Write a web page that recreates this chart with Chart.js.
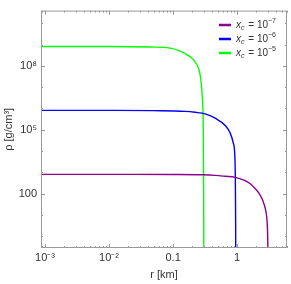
<!DOCTYPE html>
<html>
<head>
<meta charset="utf-8">
<script src="https://cdn.jsdelivr.net/npm/chart.js@4/dist/chart.umd.min.js"></script>
<style>
  html, body { margin: 0; padding: 0; background: #fff; }
  #wrap { width: 291px; height: 284px; }
</style>
</head>
<body>
<div id="wrap"><canvas id="myChart" width="291" height="284"></canvas></div>
<script>
// density profiles (r in km, rho in g/cm^3)
const r7 = [0.0008, 0.01, 0.1, 0.3, 0.453, 0.65, 0.93, 1.33, 1.6, 1.91, 2.29, 2.55, 2.74, 2.88, 2.97, 3.02, 3.04];
const rho7 = [810, 810, 805, 780, 730, 660, 590, 415, 295, 175, 87, 43, 21, 9, 2.5, 0.3, 0.05];

const r6 = [0.0008, 0.01, 0.05, 0.154, 0.221, 0.316, 0.453, 0.65, 0.778, 0.866, 0.914, 0.935, 0.947, 0.95];
const rho6 = [8.1e5, 8.1e5, 7.9e5, 7.3e5, 6.6e5, 5.6e5, 3.5e5, 1.6e5, 7e4, 2.5e4, 8e3, 800, 5, 0.1];

const r5 = [0.0008, 0.01, 0.0437, 0.0897, 0.129, 0.184, 0.221, 0.264, 0.284, 0.296, 0.3, 0.302];
const rho5 = [8.1e8, 8.1e8, 7.6e8, 6.8e8, 4.9e8, 2.7e8, 1.5e8, 3.8e7, 4.3e6, 1e5, 100, 0.1];

const seriesExp = ["-7", "-6", "-5"];
const seriesColors = ["#8b008b", "#0000ff", "#00ff00"];

const xTickValues = [0.001, 0.01, 0.1, 1];
const xTickLabels = ["10⁻³", "10⁻²", "0.1", "1"];
const yTickValues = [100, 1e5, 1e8];
const yTickLabels = ["100", "10⁵", "10⁸"];

const xMin = 8.66e-4, xMax = 6.0;
const yMin = 0.285, yMax = 3.9e10;

const frameColor = "#9a9a9a";
const textColor = "#333";
const fontFamily = "'Liberation Sans', Arial, sans-serif";

function toPoints(xs, ys) {
  return xs.map((x, i) => ({ x: x, y: ys[i] }));
}

const profiles = [toPoints(r7, rho7), toPoints(r6, rho6), toPoints(r5, rho5)];

const data = {
  datasets: profiles.map((pts, i) => ({
    label: "x_c = 10^" + seriesExp[i],
    data: pts,
    borderColor: seriesColors[i],
    backgroundColor: seriesColors[i],
    borderWidth: 1.4,
    pointRadius: 0,
    showLine: true,
    fill: false,
    cubicInterpolationMode: "monotone",
  })),
};

// frame, inner tick marks and the legend with sub/superscripts
const decorations = {
  id: "decorations",
  afterDraw(chart) {
    const ctx = chart.ctx;
    const a = chart.chartArea;
    const xs = chart.scales.x;
    const ys = chart.scales.y;
    ctx.save();
    ctx.strokeStyle = frameColor;
    ctx.lineWidth = 1;
    ctx.strokeRect(a.left + 0.5, a.top + 0.5, a.right - a.left - 1, a.bottom - a.top - 1);

    // x ticks (major + minor), bottom and top
    for (let e = -4; e <= 1; e++) {
      for (let m = 1; m <= 9; m++) {
        const v = m * Math.pow(10, e);
        if (v < xMin || v > xMax) continue;
        const px = Math.round(xs.getPixelForValue(v)) + 0.5;
        const len = m === 1 ? 4 : 2;
        ctx.beginPath();
        ctx.moveTo(px, a.bottom);
        ctx.lineTo(px, a.bottom - len);
        ctx.moveTo(px, a.top);
        ctx.lineTo(px, a.top + len);
        ctx.stroke();
      }
    }
    // y ticks every decade, left and right
    for (let e = 0; e <= 10; e++) {
      const v = Math.pow(10, e);
      const py = Math.round(ys.getPixelForValue(v)) + 0.5;
      const len = yTickValues.includes(v) ? 4 : 2;
      ctx.beginPath();
      ctx.moveTo(a.left, py);
      ctx.lineTo(a.left + len, py);
      ctx.moveTo(a.right, py);
      ctx.lineTo(a.right - len, py);
      ctx.stroke();
    }

    // legend
    const lx = 219, tx = 236;
    ctx.textBaseline = "middle";
    ctx.fillStyle = textColor;
    seriesExp.forEach((ex, i) => {
      const ly = 25 + i * 14;
      ctx.strokeStyle = seriesColors[i];
      ctx.lineWidth = 2.5;
      ctx.beginPath();
      ctx.moveTo(lx, ly);
      ctx.lineTo(lx + 12, ly);
      ctx.stroke();

      let x = tx;
      ctx.font = "italic 10px " + fontFamily;
      ctx.fillText("x", x, ly);
      x += ctx.measureText("x").width;
      ctx.font = "italic 7px " + fontFamily;
      ctx.fillText("c", x, ly + 3);
      x += ctx.measureText("c").width + 1;
      ctx.font = "10px " + fontFamily;
      ctx.fillText(" = 10", x, ly);
      x += ctx.measureText(" = 10").width;
      ctx.font = "7px " + fontFamily;
      ctx.fillText(ex.replace("-", "−"), x, ly - 4);
    });
    ctx.restore();
  },
};

const config = {
  type: "scatter",
  data: data,
  options: {
    responsive: false,
    animation: false,
    layout: { padding: { top: 3, right: 4, left: 0, bottom: 0 } },
    plugins: {
      legend: { display: false },
      tooltip: { enabled: false },
    },
    scales: {
      x: {
        type: "logarithmic",
        min: xMin,
        max: xMax,
        afterBuildTicks: (scale) => {
          scale.ticks = xTickValues.map((v) => ({ value: v }));
        },
        afterFit: (scale) => {
          scale.height = 36;
        },
        grid: { display: false, drawTicks: false },
        border: { display: false },
        ticks: {
          autoSkip: false,
          maxRotation: 0,
          padding: 3,
          color: textColor,
          font: { family: fontFamily, size: 11 },
          callback: (v) => {
            const i = xTickValues.indexOf(v);
            return i >= 0 ? xTickLabels[i] : "";
          },
        },
        title: {
          display: true,
          text: "r [km]",
          color: textColor,
          font: { family: fontFamily, size: 11 },
          padding: { top: 0, bottom: 2 },
        },
      },
      y: {
        type: "logarithmic",
        min: yMin,
        max: yMax,
        afterBuildTicks: (scale) => {
          scale.ticks = yTickValues.map((v) => ({ value: v }));
        },
        afterFit: (scale) => {
          scale.width = 41;
        },
        grid: { display: false, drawTicks: false },
        border: { display: false },
        ticks: {
          autoSkip: false,
          padding: 4,
          color: textColor,
          font: { family: fontFamily, size: 11 },
          callback: (v) => {
            const i = yTickValues.indexOf(v);
            return i >= 0 ? yTickLabels[i] : "";
          },
        },
        title: {
          display: true,
          text: "ρ [g/cm³]",
          color: textColor,
          font: { family: fontFamily, size: 11 },
          padding: { top: 2, bottom: 0 },
        },
      },
    },
  },
  plugins: [decorations],
};

new Chart(document.getElementById("myChart"), config);
</script>
</body>
</html>
